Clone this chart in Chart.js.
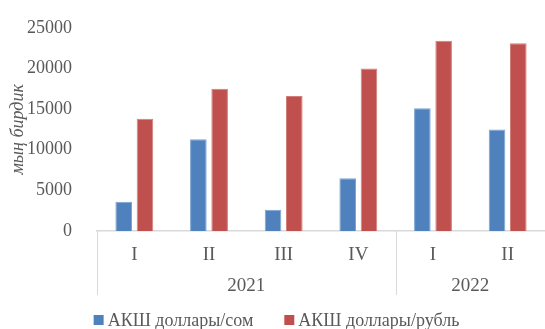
<!DOCTYPE html>
<html>
<head>
<meta charset="utf-8">
<script src="https://cdn.jsdelivr.net/npm/chart.js@4/dist/chart.umd.min.js"></script>
<style>
  html, body { margin: 0; padding: 0; background: #fff; }
  #wrap { width: 545px; height: 329px; position: relative; }
</style>
</head>
<body>
<div id="wrap"><canvas id="myChartId"></canvas></div>
<script>
const quarters = ['I', 'II', 'III', 'IV', 'I', 'II'];
const years = ['2021', '2022'];
const yearSpans = [4, 2];
const usdSom = [3600, 11300, 2600, 6500, 15100, 12500];
const usdRub = [13800, 17500, 16600, 20000, 23400, 23100];
const seriesNames = ['АКШ доллары/сом', 'АКШ доллары/рубль'];
const yTicks = [0, 5000, 10000, 15000, 20000, 25000];

const textColor = '#595959';
const lineColor = '#d9d9d9';
const serif = 'Liberation Serif, Times New Roman, serif';

// year row under the quarter labels, with the group separators
const yearGroups = {
    id: 'yearGroups',
    afterDraw(chart) {
        const ctx = chart.ctx;
        const x = chart.scales.x;
        const area = chart.chartArea;
        const half = (x.getPixelForValue(1) - x.getPixelForValue(0)) / 2;
        ctx.save();
        ctx.strokeStyle = lineColor;
        ctx.lineWidth = 1;
        ctx.fillStyle = textColor;
        ctx.font = '19px ' + serif;
        ctx.textAlign = 'center';
        ctx.textBaseline = 'middle';
        let start = 0;
        years.forEach(function (year, i) {
            const end = start + yearSpans[i] - 1;
            const left = x.getPixelForValue(start) - half;
            const right = x.getPixelForValue(end) + half;
            ctx.beginPath();
            ctx.moveTo(Math.round(left) + 0.5, area.bottom);
            ctx.lineTo(Math.round(left) + 0.5, area.bottom + 64);
            ctx.stroke();
            ctx.fillText(year, (left + right) / 2, area.bottom + 55);
            start = end + 1;
        });
        ctx.restore();
    }
};

// legend row at the bottom
const bottomLegend = {
    id: 'bottomLegend',
    afterDraw(chart) {
        const ctx = chart.ctx;
        ctx.save();
        ctx.font = '18px ' + serif;
        ctx.textBaseline = 'middle';
        const gap = 31, box = 10, textOff = 14;
        const widths = chart.data.datasets.map(function (ds) {
            return textOff + ctx.measureText(ds.label).width;
        });
        const total = widths.reduce(function (a, b) { return a + b; }, 0) + gap;
        let cx = chart.width / 2 + 4 - total / 2;
        const cy = 320;
        chart.data.datasets.forEach(function (ds, i) {
            ctx.fillStyle = ds.backgroundColor;
            ctx.fillRect(cx, cy - 5, box, box);
            ctx.fillStyle = textColor;
            ctx.fillText(ds.label, cx + textOff, cy + 1);
            cx += widths[i] + gap;
        });
        ctx.restore();
    }
};

function renderChart() {
    const ctx = document.getElementById('myChartId');

    new Chart(ctx, {
        type: 'bar',
        data: {
            labels: quarters,
            datasets: [{
                label: seriesNames[0],
                data: usdSom,
                backgroundColor: '#4f81bd',
                borderColor: '#7ea3d1',
                borderWidth: 1,
                categoryPercentage: 0.57,
                barPercentage: 0.78,
            }, {
                label: seriesNames[1],
                data: usdRub,
                backgroundColor: '#c0504d',
                borderColor: '#d27f7c',
                borderWidth: 1,
                categoryPercentage: 0.57,
                barPercentage: 0.78,
            }]
        },
        options: {
            responsive: true,
            maintainAspectRatio: false,
            animation: false,
            layout: {
                padding: { top: 23, left: 0, right: 0, bottom: 0 }
            },
            scales: {
                x: {
                    grid: { display: false },
                    border: { color: lineColor, width: 1.5 },
                    ticks: {
                        color: textColor,
                        padding: 5,
                        font: { family: serif, size: 19 },
                    },
                    afterFit: function (scale) { scale.height = 98; }
                },
                y: {
                    min: 0,
                    max: 25000,
                    afterBuildTicks: function (scale) {
                        scale.ticks = yTicks.map(function (v) { return { value: v }; });
                    },
                    grid: { display: false },
                    border: { display: false },
                    ticks: {
                        color: textColor,
                        padding: 17,
                        font: { family: serif, size: 18 },
                        callback: function (value) { return String(value); }
                    },
                    title: {
                        display: true,
                        text: 'мың бирдик',
                        color: textColor,
                        padding: { top: 7, bottom: 0 },
                        font: { family: serif, size: 18, style: 'italic' },
                    },
                    afterFit: function (scale) { scale.width = 97; }
                }
            },
            plugins: {
                legend: { display: false },
                tooltip: { enabled: false }
            },
        },
        plugins: [yearGroups, bottomLegend]
    });
}

renderChart();
</script>
</body>
</html>
